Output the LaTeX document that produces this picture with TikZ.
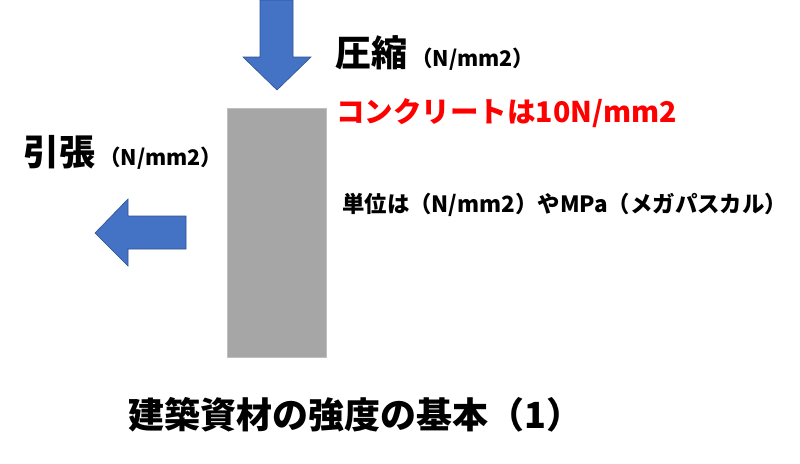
\documentclass[tikz,border=0pt]{standalone}
\usepackage{fontspec}
\setmainfont{Noto Sans CJK JP}
\definecolor{arrowblue}{HTML}{4472C4}
\definecolor{arrowedge}{HTML}{2F528F}
\definecolor{barfill}{HTML}{A6A6A6}
\definecolor{baredge}{HTML}{BFBFBF}
\definecolor{notered}{HTML}{FF0000}
\newcommand{\fsz}[1]{\fontsize{#1}{#1}\selectfont}

\begin{document}
\begin{tikzpicture}[x=1pt,y=-1pt,
    blockarrow/.style={fill=arrowblue,draw=arrowedge,line width=0.6pt,line join=miter},
    label/.style={anchor=base west,inner sep=0pt,font=\bfseries}]
    \useasboundingbox (0,0) rectangle (800,463);
    % bar
    \filldraw[fill=barfill,draw=baredge,line width=0.8pt] (227,108) rectangle (326,357);
    % compression arrow
    \filldraw[blockarrow] (260,0) -- (293,0) -- (293,57) -- (311,57) -- (277,90)
        -- (243,57) -- (260,57) -- cycle;
    % tension arrow
    \filldraw[blockarrow] (186,216) -- (186,249) -- (128,249) -- (128,266) -- (95,233)
        -- (128,199) -- (128,216) -- cycle;
    % labels
    \node[label] (comp) at (335,66) {\fsz{36}圧縮\hspace{4pt}\fsz{21.5}（N/mm2）};
    \node[label,text=notered] (conc) at (336,122) {\fsz{28.5}コンクリートは10N/mm2};
    \node[label] (tens) at (23,165) {\fsz{36}引張\hspace{4pt}\fsz{21.5}（N/mm2）};
    \node[label] (unit) at (342,212) {\fsz{22.4}単位は（N/mm2）やMPa（メガパスカル）};
    \node[label] (title) at (128,428) {\fsz{36}建築資材の強度の基本（1）};
\end{tikzpicture}
\end{document}
